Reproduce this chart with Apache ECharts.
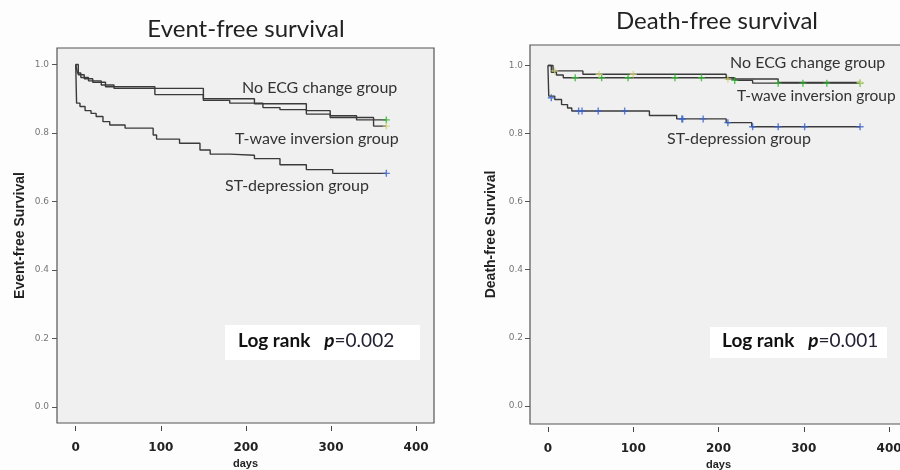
<!DOCTYPE html>
<html>
<head>
<meta charset="utf-8">
<script src="https://cdn.jsdelivr.net/npm/echarts@6/dist/echarts.min.js"></script>
<style>
html,body{margin:0;padding:0;background:#fdfdfd;}
#c{width:900px;height:470px;}
</style>
</head>
<body>
<div id="c"></div>
<script>
// ---------- data ----------
var xTicks = [0, 100, 200, 300, 400];
var yTicks = [0, 0.2, 0.4, 0.6, 0.8, 1.0];
var groupNames = ['No ECG change group', 'T-wave inversion group', 'ST-depression group'];
var titles = ['Event-free survival', 'Death-free survival'];
var yNames = ['Event-free Survival', 'Death-free Survival'];
var xName = 'days';
var pValues = ['0.002', '0.001'];

// Event-free survival: [day, survival]
var efsNoEcg = [[0,1],[2,0.975],[6,0.962],[15,0.952],[30,0.94],[45,0.93],[150,0.9],[210,0.885],[271,0.865],[299,0.85],[330,0.838],[365,0.838]];
var efsTwave = [[0,1],[3,0.97],[10,0.958],[20,0.948],[35,0.935],[93,0.912],[150,0.895],[181,0.887],[220,0.874],[240,0.868],[271,0.855],[299,0.845],[350,0.82],[365,0.82]];
var efsSt = [[0,1],[1,0.887],[5,0.877],[11,0.865],[18,0.857],[24,0.848],[32,0.833],[40,0.823],[58,0.814],[91,0.794],[95,0.782],[122,0.77],[146,0.75],[158,0.738],[181,0.735],[210,0.725],[240,0.707],[271,0.693],[302,0.682],[365,0.682]];
var efsCensNoEcg = [[365,0.838]];
var efsCensTwave = [[365,0.82]];
var efsCensSt = [[365,0.682]];

// Death-free survival: [day, survival]
var dfsNoEcg = [[0,1],[4,0.98],[10,0.972],[18,0.964],[219,0.956],[240,0.948],[366,0.948]];
var dfsTwave = [[0,1],[6,0.984],[41,0.974],[209,0.96],[270,0.95],[366,0.95]];
var dfsSt = [[0,1],[1,0.91],[8,0.9],[16,0.885],[23,0.875],[28,0.866],[119,0.853],[151,0.843],[209,0.832],[239,0.82],[366,0.82]];
var dfsCensNoEcg = [[32,0.964],[63,0.964],[94,0.964],[149,0.964],[180,0.964],[219,0.956],[270,0.948],[299,0.948],[327,0.948],[366,0.948]];
var dfsCensTwave = [[8,0.984],[60,0.974],[100,0.974],[211,0.96],[366,0.95]];
var dfsCensSt = [[4,0.905],[36,0.866],[40,0.866],[59,0.866],[90,0.866],[157,0.843],[158,0.843],[182,0.843],[211,0.832],[240,0.82],[270,0.82],[301,0.82],[366,0.82]];

// ---------- styles ----------
var lineColor = '#3a3a3a';
var censColors = ['#2fb52f', '#d2d27a', '#3a62c8'];
var plus = 'path://M-1,-5H1V-1H5V1H1V5H-1V1H-5V-1H-1Z';
var labelFont = 'Lato, "Open Sans", sans-serif';

function lineSeries(data, idx, name) {
  return {type:'line', name:name, step:'end', xAxisIndex:idx, yAxisIndex:idx, data:data,
    showSymbol:false, symbol:'none', lineStyle:{color:lineColor, width:1.4}, animation:false, z:3};
}
function censSeries(data, idx, color, name) {
  return {type:'scatter', name:name, xAxisIndex:idx, yAxisIndex:idx, data:data, symbol:plus,
    symbolSize:7, itemStyle:{color:color}, animation:false, z:4};
}
function xAxis(idx, min, max) {
  return {type:'value', gridIndex:idx, min:min, max:max, offset:3, position:'bottom',
    name:xName, nameLocation:'middle', nameGap:31,
    nameTextStyle:{fontFamily:'"Liberation Sans", Arial, sans-serif', fontWeight:'bold', fontSize:11, color:'#222'},
    axisLine:{show:false, onZero:false},
    axisTick:{show:true, length:5, customValues:xTicks, lineStyle:{color:'#444'}},
    axisLabel:{customValues:xTicks, margin:16, fontFamily:'"DejaVu Sans", sans-serif', fontWeight:'bold', fontSize:12, color:'#222'},
    splitLine:{show:false}};
}
function yAxis(idx, min, max, margin, gap) {
  return {type:'value', gridIndex:idx, min:min, max:max, position:'left',
    name:yNames[idx], nameLocation:'middle', nameGap:gap, nameRotate:90,
    nameTextStyle:{fontFamily:'"Liberation Sans", Arial, sans-serif', fontWeight:'bold', fontSize:14, color:'#222'},
    axisLine:{show:false, onZero:false},
    axisTick:{show:true, length:5, customValues:yTicks, lineStyle:{color:'#555'}},
    axisLabel:{customValues:yTicks, margin:margin, fontSize:9, color:'#777',
      fontFamily:'"DejaVu Sans", sans-serif', formatter:function(v){return v.toFixed(1);}},
    splitLine:{show:false}};
}
function logRankText(p) {
  return '{b|Log rank}{i|p}{n|=' + p + '}';
}
var rich = {
  b:{fontFamily:labelFont, fontWeight:'bold', fontSize:19, fill:'#111', fontStyle:'normal'},
  i:{fontFamily:labelFont, fontWeight:'bold', fontStyle:'italic', fontSize:19, fill:'#111', padding:[0,0,0,14]},
  n:{fontFamily:labelFont, fontSize:19, fill:'#223'}
};
function label(text, x, y, size) {
  return {type:'text', left:x, top:y, style:{text:text, fontFamily:labelFont, fontSize:size || 16, fill:'#333'}};
}

var chart = echarts.init(document.getElementById('c'), null, {renderer:'canvas'});
chart.setOption({
  backgroundColor:'#fdfdfd',
  title:[
    {text:titles[0], left:241, top:12, textAlign:'center',
     textStyle:{fontFamily:labelFont, fontWeight:'normal', fontSize:24, color:'#222'}},
    {text:titles[1], left:712, top:4, textAlign:'center',
     textStyle:{fontFamily:labelFont, fontWeight:'normal', fontSize:24, color:'#222'}}
  ],
  grid:[
    {left:57, top:48, width:377, height:375, show:true, backgroundColor:'#f0f0f0', borderColor:'#555', borderWidth:1.2,
     containLabel:false, outerBoundsMode:'none'},
    {left:530, top:45, width:377, height:379, show:true, backgroundColor:'#f0f0f0', borderColor:'#555', borderWidth:1.2,
     containLabel:false, outerBoundsMode:'none'}
  ],
  xAxis:[xAxis(0, -22, 421), xAxis(1, -21, 421)],
  yAxis:[yAxis(0, -0.047, 1.048, 8, 30), yAxis(1, -0.053, 1.06, 7, 32)],
  series:[
    lineSeries(efsNoEcg, 0, groupNames[0]),
    lineSeries(efsTwave, 0, groupNames[1]),
    lineSeries(efsSt, 0, groupNames[2]),
    censSeries(efsCensNoEcg, 0, censColors[0], groupNames[0]),
    censSeries(efsCensTwave, 0, censColors[1], groupNames[1]),
    censSeries(efsCensSt, 0, censColors[2], groupNames[2]),
    lineSeries(dfsNoEcg, 1, groupNames[0]),
    lineSeries(dfsTwave, 1, groupNames[1]),
    lineSeries(dfsSt, 1, groupNames[2]),
    censSeries(dfsCensNoEcg, 1, censColors[0], groupNames[0]),
    censSeries(dfsCensTwave, 1, censColors[1], groupNames[1]),
    censSeries(dfsCensSt, 1, censColors[2], groupNames[2])
  ],
  graphic:[
    label(groupNames[0], 242, 80),
    label(groupNames[1], 235, 131),
    label(groupNames[2], 225, 178),
    label(groupNames[0], 730, 55),
    label(groupNames[1], 737, 88, 15.5),
    label(groupNames[2], 667, 131),
    {type:'rect', left:225, top:325, shape:{width:195, height:35}, style:{fill:'#ffffff'}, z:5},
    {type:'text', left:238, top:331, z:6, style:{text:logRankText(pValues[0]), rich:rich}},
    {type:'rect', left:710, top:327, shape:{width:177, height:31}, style:{fill:'#ffffff'}, z:5},
    {type:'text', left:722, top:331, z:6, style:{text:logRankText(pValues[1]), rich:rich}}
  ]
});
</script>
</body>
</html>
